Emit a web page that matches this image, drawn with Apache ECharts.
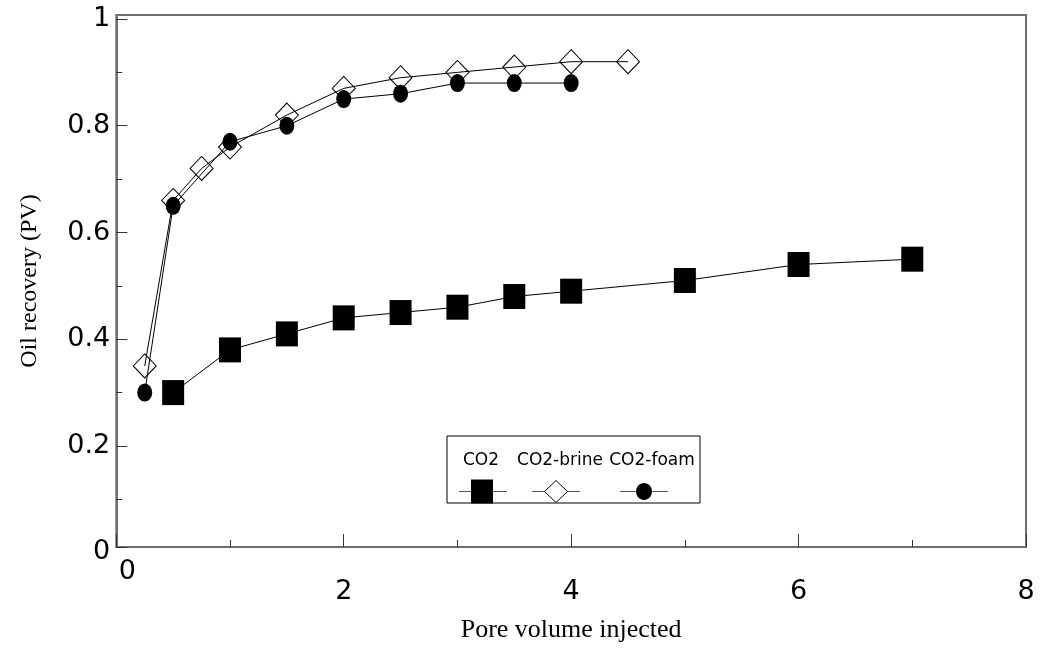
<!DOCTYPE html>
<html><head><meta charset="utf-8">
<script src="https://cdn.jsdelivr.net/npm/echarts@6/dist/echarts.min.js"></script>
<style>html,body{margin:0;padding:0;background:#fff}#chart{width:1045px;height:655px}</style>
</head><body><div id="chart"></div>
<script>
// ---- data ----
const seriesNames = ['CO2', 'CO2-brine', 'CO2-foam'];
const co2X = [0.5, 1, 1.5, 2, 2.5, 3, 3.5, 4, 5, 6, 7];
const co2Y = [0.30, 0.38, 0.41, 0.44, 0.45, 0.46, 0.48, 0.49, 0.51, 0.54, 0.55];
const brineX = [0.25, 0.5, 0.75, 1, 1.5, 2, 2.5, 3, 3.5, 4, 4.5];
const brineY = [0.35, 0.66, 0.72, 0.76, 0.82, 0.87, 0.89, 0.90, 0.91, 0.92, 0.92];
const foamX = [0.25, 0.5, 1, 1.5, 2, 2.5, 3, 3.5, 4];
const foamY = [0.30, 0.65, 0.77, 0.80, 0.85, 0.86, 0.88, 0.88, 0.88];
const xTickLabels = [0, 2, 4, 6, 8];
const yTickLabels = [0, 0.2, 0.4, 0.6, 0.8, 1];
const yMinorTicks = [0.1, 0.3, 0.5, 0.7, 0.9];

// axis extent (the x axis line sits slightly above y = 0 in the original)
const Y_MIN = 0.0107;
const Y_MAX = 1.0075;

const zip = (xs, ys) => xs.map((x, i) => [x, ys[i]]);
const yLabelVals = yTickLabels.map(v => (v === 0 ? Y_MIN : v));

const SANS = 'DejaVu Sans';
const SERIF = 'Liberation Serif';
const AXIS_COLOR = '#707070';
const TICK_FONT = 27;

const chart = echarts.init(document.getElementById('chart'), null, { renderer: 'canvas' });

const lineStyle = { color: '#000', width: 1 };

// legend (text above symbol, as in the original)
const LG = { x: 447, y: 436, w: 253, h: 67, textY: 461, symY: 491.5 };
const legendItems = [
  { cx: 482, tx: 481, lineL: 459, lineR: 507 },
  { cx: 556, tx: 560, lineL: 532, lineR: 580 },
  { cx: 644, tx: 652, lineL: 620, lineR: 668 }
];
const graphic = [
  { type: 'rect', z: 100, shape: { x: LG.x, y: LG.y, width: LG.w, height: LG.h }, style: { fill: '#fff', stroke: '#000', lineWidth: 1 } }
];
legendItems.forEach((it, i) => {
  graphic.push({ type: 'text', z: 101, style: { text: seriesNames[i], x: it.tx, y: LG.textY, textAlign: 'center', textVerticalAlign: 'middle', font: '17px "' + SANS + '"', fill: '#000' } });
  graphic.push({ type: 'line', z: 101, shape: { x1: it.lineL, y1: LG.symY, x2: it.lineR, y2: LG.symY }, style: { stroke: '#555', lineWidth: 1 } });
});
graphic.push({ type: 'rect', z: 102, shape: { x: legendItems[0].cx - 11, y: LG.symY - 12, width: 22, height: 24 }, style: { fill: '#000' } });
graphic.push({ type: 'polygon', z: 102, shape: { points: [[legendItems[1].cx, LG.symY - 11], [legendItems[1].cx + 11.5, LG.symY], [legendItems[1].cx, LG.symY + 11], [legendItems[1].cx - 11.5, LG.symY]] }, style: { fill: '#fff', stroke: '#000', lineWidth: 1 } });
graphic.push({ type: 'ellipse', z: 102, shape: { cx: legendItems[2].cx, cy: LG.symY, rx: 8, ry: 8.5 }, style: { fill: '#000' } });

const option = {
  animation: false,
  backgroundColor: '#fff',
  grid: { left: 116.3, right: 19, top: 15, bottom: 108, show: true, borderColor: AXIS_COLOR, borderWidth: 2, backgroundColor: 'transparent' },
  xAxis: {
    type: 'value', min: 0, max: 8, interval: 2,
    axisLine: { show: true, lineStyle: { color: AXIS_COLOR, width: 2 } },
    axisTick: { show: true, inside: true, length: 13, lineStyle: { color: '#333', width: 1 } },
    minorTick: { show: true, splitNumber: 2, length: 7, lineStyle: { color: '#333', width: 1 } },
    splitLine: { show: false },
    axisLabel: {
      margin: 11, color: '#000', fontFamily: SANS, fontSize: TICK_FONT,
      formatter: v => (v === 0 ? '{z|0}' : '{n|' + v + '}'),
      rich: {
        z: { fontFamily: SANS, fontSize: TICK_FONT, color: '#000', padding: [0, 0, 0, 22] },
        n: { fontFamily: SANS, fontSize: TICK_FONT, color: '#000', padding: [20, 0, 0, 0] }
      }
    },
    name: 'Pore volume injected', nameLocation: 'middle', nameGap: 70,
    nameTextStyle: { fontFamily: SERIF, fontSize: 26, color: '#000' }
  },
  yAxis: [
    {
      type: 'value', min: Y_MIN, max: Y_MAX, position: 'left',
      axisLine: { show: true, lineStyle: { color: AXIS_COLOR, width: 2 } },
      axisTick: { show: true, inside: true, length: 11, customValues: yLabelVals, lineStyle: { color: '#333', width: 1 } },
      splitLine: { show: false },
      axisLabel: {
        margin: 6, color: '#000', fontFamily: SANS, fontSize: TICK_FONT,
        customValues: yLabelVals,
        formatter: v => (v < 0.1 ? '{z|0}' : String(Math.round(v * 10) / 10)),
        rich: { z: { fontFamily: SANS, fontSize: TICK_FONT, color: '#000', padding: [10, 0, 0, 0] } }
      },
      name: 'Oil recovery (PV)', nameLocation: 'middle', nameGap: 75,
      nameTextStyle: { fontFamily: SERIF, fontSize: 24, color: '#000' }
    },
    {
      type: 'value', min: Y_MIN, max: Y_MAX, position: 'left',
      axisLine: { show: false },
      axisTick: { show: true, inside: true, length: 6, customValues: yMinorTicks, lineStyle: { color: '#333', width: 1 } },
      axisLabel: { show: false },
      splitLine: { show: false }
    }
  ],
  series: [
    {
      name: seriesNames[0], type: 'line', data: zip(co2X, co2Y),
      symbol: 'rect', symbolSize: [22, 25], itemStyle: { color: '#000' }, lineStyle, z: 3
    },
    {
      name: seriesNames[1], type: 'line', data: zip(brineX, brineY),
      symbol: 'diamond', symbolSize: [23, 24],
      itemStyle: { color: 'rgba(0,0,0,0)', borderColor: '#000', borderWidth: 1 }, lineStyle, z: 3
    },
    {
      name: seriesNames[2], type: 'line', data: zip(foamX, foamY),
      symbol: 'circle', symbolSize: [15, 18], itemStyle: { color: '#000' }, lineStyle, z: 4
    }
  ],
  graphic
};
chart.setOption(option);
</script>
</body></html>
